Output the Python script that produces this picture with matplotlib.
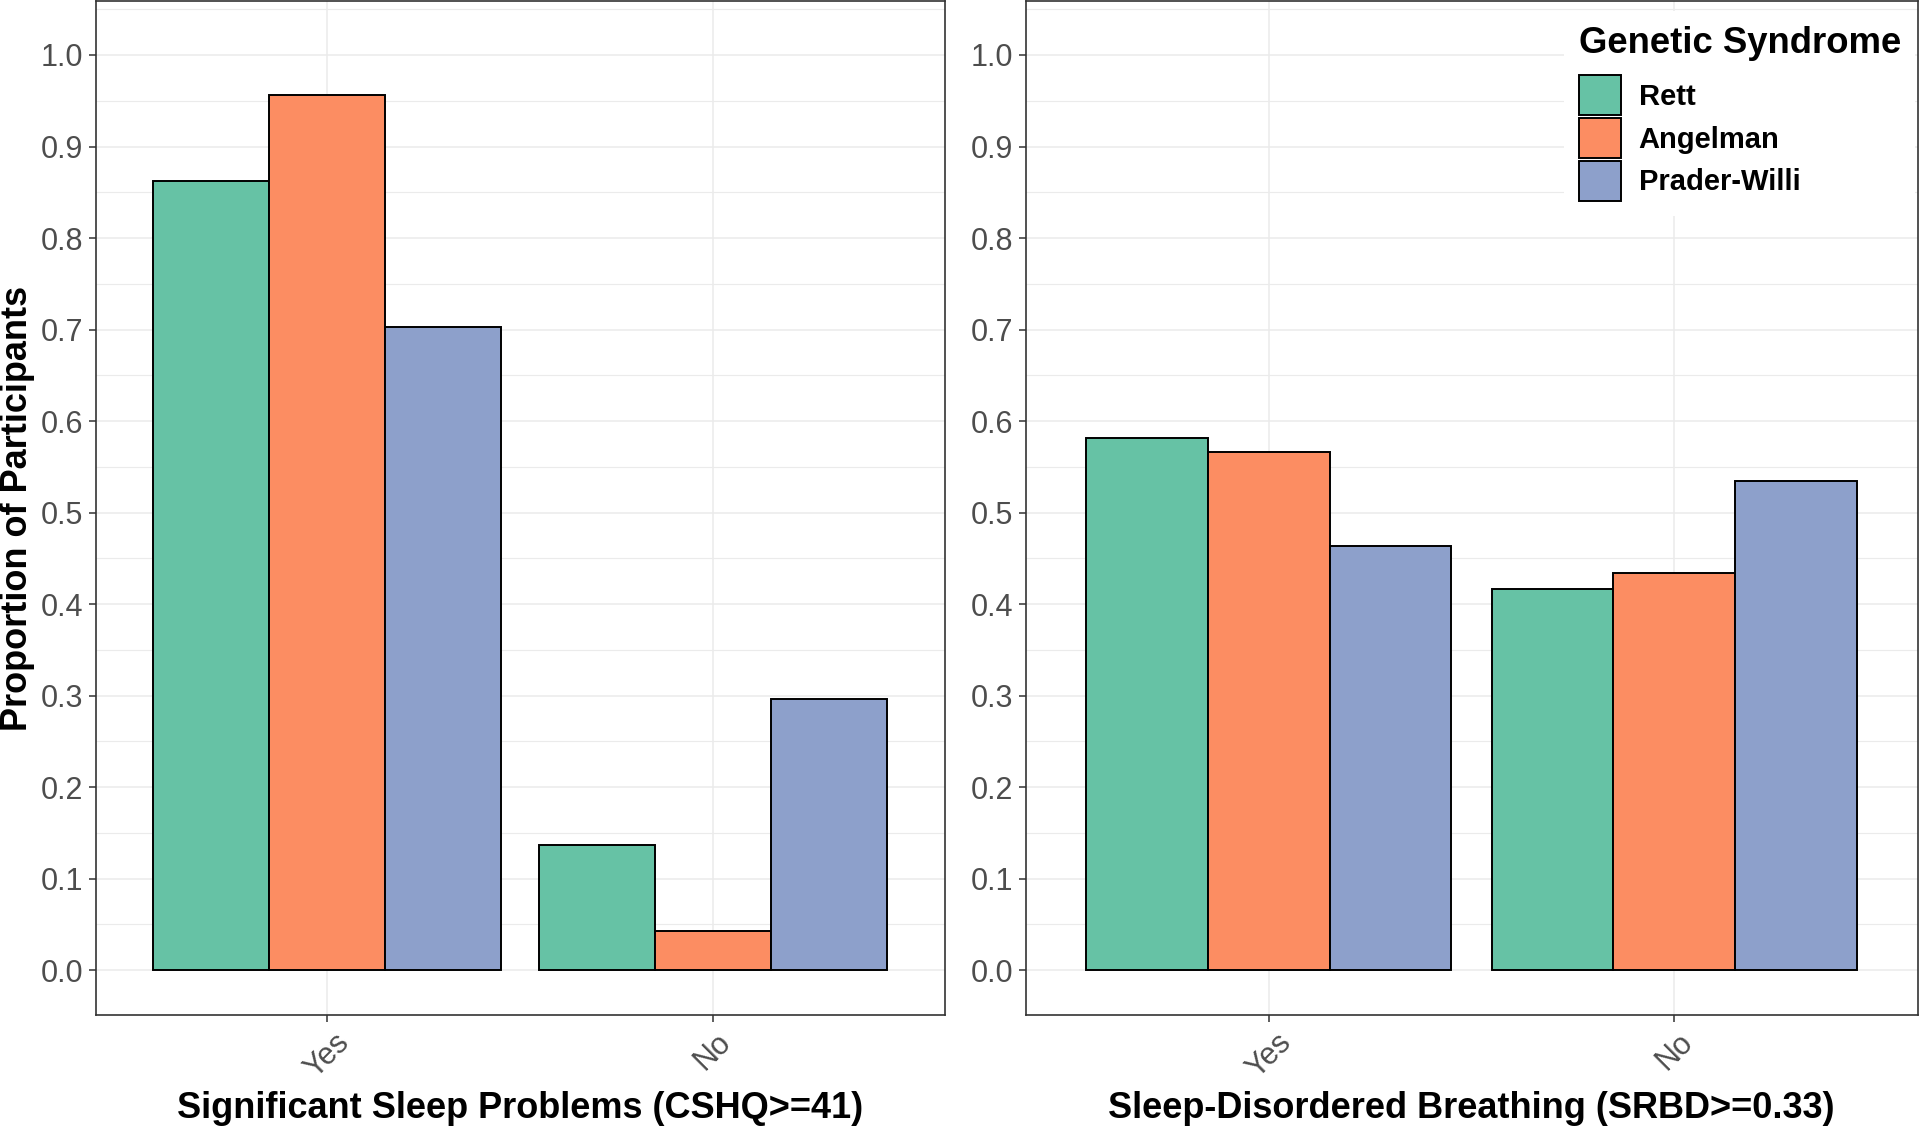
import matplotlib
matplotlib.use("Agg")
import matplotlib.pyplot as plt
from matplotlib.patches import Patch
import numpy as np

plt.rcParams['font.family'] = ['Liberation Sans', 'DejaVu Sans']

categories = ["Yes", "No"]
syndromes = ["Rett", "Angelman", "Prader-Willi"]
colors = ["#66C2A5", "#FC8D62", "#8DA0CB"]

# proportions per syndrome for [Yes, No]
cshq_vals = {
    "Rett": [0.862, 0.137],
    "Angelman": [0.956, 0.043],
    "Prader-Willi": [0.703, 0.296],
}
srbd_vals = {
    "Rett": [0.582, 0.417],
    "Angelman": [0.566, 0.434],
    "Prader-Willi": [0.464, 0.535],
}
xtitles = ["Significant Sleep Problems (CSHQ>=41)", "Sleep-Disordered Breathing (SRBD>=0.33)"]
ytitle = "Proportion of Participants"
yticks = [0.0, 0.1, 0.2, 0.3, 0.4, 0.5, 0.6, 0.7, 0.8, 0.9, 1.0]

W, H = 1920, 1128
fig = plt.figure(figsize=(W / 100, H / 100), dpi=100)

def px_axes(x0, x1, ytop, ybot):
    return fig.add_axes([x0 / W, 1 - ybot / H, (x1 - x0) / W, (ybot - ytop) / H])

ax1 = px_axes(95.5, 944.5, 1, 1015)
ax2 = px_axes(1025.5, 1917.5, 1, 1015)

tick_color = "#4D4D4D"
border = "#333333"

for ax, vals, xt in [(ax1, cshq_vals, xtitles[0]), (ax2, srbd_vals, xtitles[1])]:
    x = np.arange(len(categories))
    w = 0.3
    for i, s in enumerate(syndromes):
        ax.bar(x + (i - 1) * w, vals[s], width=w, color=colors[i],
               edgecolor="black", linewidth=1.4, zorder=3)
    ax.set_xlim(-0.6, 1.6)
    ax.set_ylim(-0.049, 1.059)
    ax.set_yticks(yticks)
    ax.set_yticklabels([f"{v:.1f}" for v in yticks])
    ax.set_yticks(np.arange(0.05, 1.06, 0.1), minor=True)
    ax.set_xticks(x)
    ax.set_xticklabels(categories, rotation=45, ha="center", va="top")
    ax.grid(True, which="major", color="#EBEBEB", linewidth=1.1, zorder=0)
    ax.grid(True, which="minor", axis="y", color="#EBEBEB", linewidth=0.8, zorder=0)
    ax.set_axisbelow(True)
    ax.tick_params(axis="both", which="major", length=5, width=1.1, color=border,
                   labelsize=22, labelcolor=tick_color, pad=4)
    ax.tick_params(axis="y", which="minor", length=0)
    for sp in ax.spines.values():
        sp.set_color(border)
        sp.set_linewidth(1.2)
    ax.set_xlabel(xt, fontsize=26, fontweight="bold", labelpad=5)

ax1.set_ylabel(ytitle, fontsize=26, fontweight="bold", labelpad=4)

handles = [Patch(facecolor=c, edgecolor="black", linewidth=1.4) for c in colors]
leg = ax2.legend(handles, syndromes, title="Genetic Syndrome",
                 loc="upper left", bbox_to_anchor=(1564 / W, 1 - 11 / H),
                 bbox_transform=fig.transFigure,
                 prop={"size": 21, "weight": "bold"},
                 title_fontproperties={"size": 26.3, "weight": "bold"},
                 frameon=True, facecolor="white", edgecolor="none", framealpha=1,
                 fancybox=False, borderpad=0.5, handlelength=1.44, handleheight=1.733,
                 labelspacing=0.1, handletextpad=0.62, alignment="left", borderaxespad=0)
leg._legend_box.sep = 10.5

fig.savefig("out.png", dpi=100)
